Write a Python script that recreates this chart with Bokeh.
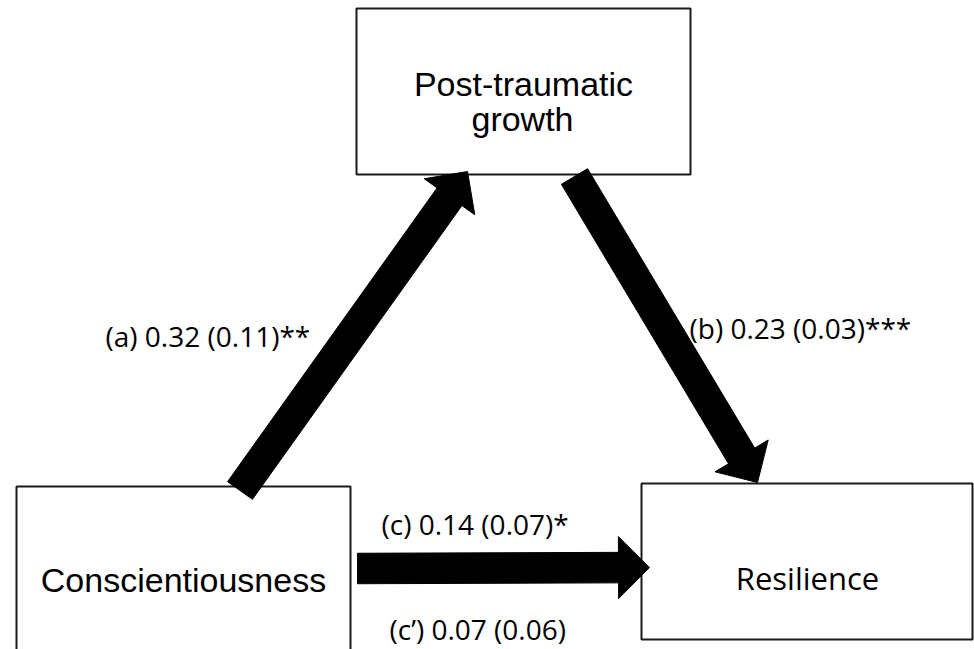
import numpy as np
from bokeh.plotting import figure
from bokeh.models import Range1d, ColumnDataSource
from bokeh.core.properties import value
from bokeh.embed import file_html
from bokeh.resources import INLINE

# ---- data ----
node_names = ["Post-traumatic growth", "Conscientiousness", "Resilience"]
path_names = ["a", "b", "c", "c\u2019"]
coefs = [0.32, 0.23, 0.14, 0.07]
ses = [0.11, 0.03, 0.07, 0.06]
stars = ["**", "***", "*", ""]

labels = [f"({n}) {c:.2f} ({s:.2f}){st}" for n, c, s, st in zip(path_names, coefs, ses, stars)]

# ---- layout (page pixel coordinates, y downwards) ----
W, H = 974, 649
p = figure(width=W, height=H, output_backend="svg", toolbar_location=None,
           x_range=Range1d(0, W), y_range=Range1d(-H, 0),
           min_border=0)
p.axis.visible = False
p.xgrid.visible = False
p.ygrid.visible = False
p.outline_line_color = None
p.background_fill_color = "white"
p.border_fill_color = "white"

# boxes: left, right, top, bottom
boxes = dict(left=[356, 16, 641], right=[690, 350, 972], top=[8, 486, 483], bottom=[174, 720, 639])
p.quad(left=boxes["left"], right=boxes["right"],
       top=[-t for t in boxes["top"]], bottom=[-b for b in boxes["bottom"]],
       fill_color="white", line_color="#1a1a1a", line_width=2)

def arrow(tail, tip, w, hl, hw):
    t = np.array([tail[0], -tail[1]], float)
    q = np.array([tip[0], -tip[1]], float)
    u = (q - t) / np.linalg.norm(q - t)
    n = np.array([-u[1], u[0]])
    b = q - hl * u
    pts = [t + n * w / 2, b + n * w / 2, b + n * hw / 2, q,
           b - n * hw / 2, b - n * w / 2, t - n * w / 2]
    return [pt[0] for pt in pts], [pt[1] for pt in pts]

arrows = [((239.5, 490), (467, 171)),
          ((574, 176), (757, 482)),
          ((357, 568), (649, 567))]
xs, ys = [], []
for tail, tip in arrows:
    ax, ay = arrow(tail, tip, 30.5, 31, 62)
    xs.append(ax)
    ys.append(ay)
p.patches(xs, ys, fill_color="black", line_color="black", line_width=1)

# node labels
node_src = ColumnDataSource(dict(
    x=[523, 522, 183],
    y=[-83, -118, -579],
    text=["Post-traumatic", "growth", node_names[1]],
))
p.text(x="x", y="y", text="text", source=node_src, text_font=value("Liberation Sans"),
       text_font_size="34px", text_align="center", text_baseline="alphabetic", text_color="black")

p.text(x=[807], y=[-577], text=[node_names[2]], text_font=value("Open Sans"),
       text_font_size="31px", text_align="center", text_baseline="alphabetic", text_color="black")

# path labels
lab_src = ColumnDataSource(dict(
    x=[105, 689, 381, 389],
    y=[-335, -327, -523, -628],
    text=labels,
))
p.text(x="x", y="y", text="text", source=lab_src, text_font=value("Open Sans"),
       text_font_size="28px", text_align="left", text_baseline="alphabetic", text_color="black")

open("out.html", "w").write(file_html(p, INLINE))
